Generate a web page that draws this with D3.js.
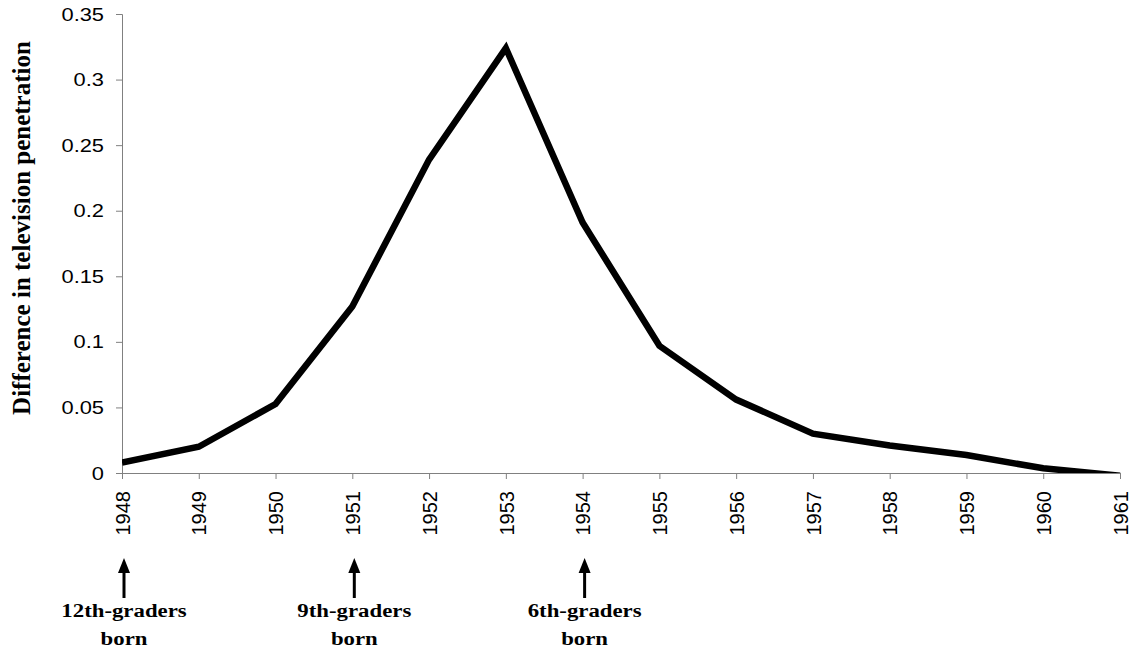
<!DOCTYPE html>
<html>
<head>
<meta charset="utf-8">
<script src="https://d3js.org/d3.v7.min.js"></script>
<style>
  body { margin: 0; background: #fff; }
</style>
</head>
<body>
<div class="view1"></div>
<script>
// data
const years = [1948, 1949, 1950, 1951, 1952, 1953, 1954, 1955, 1956, 1957, 1958, 1959, 1960, 1961];
const diffValues = [0.008, 0.020, 0.0526, 0.127, 0.239, 0.324, 0.191, 0.097, 0.056, 0.030, 0.021, 0.0137, 0.0036, -0.002];
const yTicks = [0, 0.05, 0.1, 0.15, 0.2, 0.25, 0.3, 0.35];
const markers = [
    {year: 1948, label: "12th-graders"},
    {year: 1951, label: "9th-graders"},
    {year: 1954, label: "6th-graders"}
];

const margin = {top: 14, right: 16, bottom: 180, left: 122};

let svg = d3.select(".view1").append("svg")
    .attr("width", 1136)
    .attr("height", 653);

let g = svg.append("g")
    .attr("transform", "translate(" + margin.left + "," + margin.top + ")");

let x = d3.scaleLinear()
    .domain([1948, 1961])
    .range([0, 998]);

let y = d3.scaleLinear()
    .domain([0, 0.35])
    .range([459, 0]);

// clip so the tail does not dip under the axis
svg.append("defs").append("clipPath").attr("id", "plotclip")
    .append("rect").attr("x", 0).attr("y", -10).attr("width", 1000).attr("height", 469);

// y axis
let yAxis = g.append("g")
    .call(d3.axisLeft(y).tickValues(yTicks).tickSize(6).tickFormat(d => String(+d.toFixed(2))));
yAxis.select(".domain").attr("stroke", "#808080");
yAxis.selectAll(".tick line").attr("stroke", "#808080");
yAxis.selectAll("text")
    .attr("font-family", "Liberation Sans, Arial, sans-serif")
    .attr("font-size", 19)
    .attr("fill", "#000")
    .attr("x", 0)
    .attr("transform", "translate(-18,0) scale(1.15,1)");

// x axis
let xAxis = g.append("g")
    .attr("transform", "translate(0," + 459 + ")")
    .call(d3.axisBottom(x).tickValues(years).tickSize(6).tickFormat(d3.format("d")));
xAxis.select(".domain").attr("stroke", "#808080");
xAxis.selectAll(".tick line").attr("stroke", "#808080");
xAxis.selectAll("text")
    .attr("font-family", "Liberation Sans, Arial, sans-serif")
    .attr("font-size", 20)
    .attr("fill", "#000")
    .attr("text-anchor", "end")
    .attr("transform", "rotate(-90)")
    .attr("x", -18)
    .attr("y", 0)
    .attr("dy", "0.36em");

// the line
let line = d3.line()
    .x((d, i) => x(years[i]))
    .y(d => y(d));

g.append("path")
    .datum(diffValues)
    .attr("clip-path", "url(#plotclip)")
    .attr("fill", "none")
    .attr("stroke", "#000")
    .attr("stroke-width", 6.5)
    .attr("stroke-linejoin", "miter")
    .attr("d", line);

// y label
svg.append("text")
    .attr("transform", "translate(30,228) rotate(-90)")
    .attr("text-anchor", "middle")
    .attr("font-family", "Liberation Serif, Times New Roman, serif")
    .attr("font-weight", "bold")
    .attr("font-size", 25)
    .text("Difference in television penetration");

// arrows + labels under the axis
let mk = svg.append("g").selectAll("g")
    .data(markers).enter().append("g")
    .attr("transform", d => "translate(" + (margin.left + x(d.year) + 2) + ",0)");

mk.append("line")
    .attr("x1", 0).attr("x2", 0)
    .attr("y1", 598).attr("y2", 570)
    .attr("stroke", "#000")
    .attr("stroke-width", 3);

mk.append("path")
    .attr("d", "M0,558 L-6,573 L6,573 Z")
    .attr("fill", "#000");

mk.append("text")
    .attr("y", 617)
    .attr("text-anchor", "middle")
    .attr("transform", "scale(1.2,1)")
    .attr("font-family", "Liberation Serif, Times New Roman, serif")
    .attr("font-weight", "bold")
    .attr("font-size", 19)
    .text(d => d.label);

mk.append("text")
    .attr("y", 645)
    .attr("text-anchor", "middle")
    .attr("transform", "scale(1.2,1)")
    .attr("font-family", "Liberation Serif, Times New Roman, serif")
    .attr("font-weight", "bold")
    .attr("font-size", 19)
    .text("born");
</script>
</body>
</html>
